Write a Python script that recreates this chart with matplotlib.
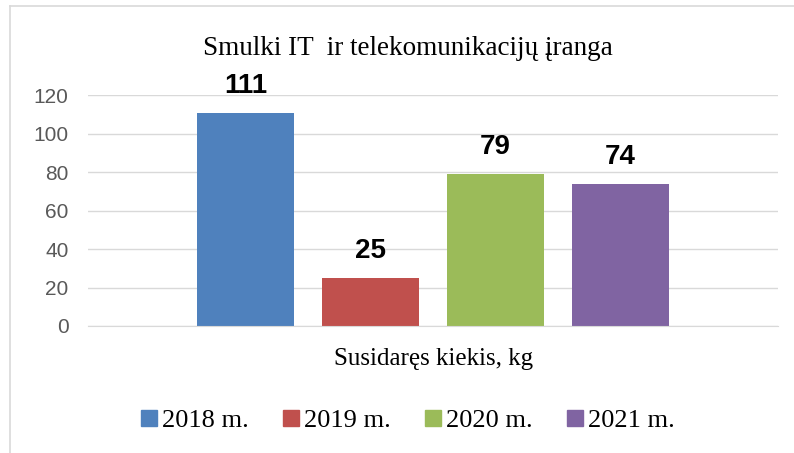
import matplotlib.pyplot as plt
from matplotlib.lines import Line2D
from matplotlib.patches import Patch

# data
years = ['2018 m.', '2019 m.', '2020 m.', '2021 m.']
values = [111, 25, 79, 74]
colors = ['#4F81BD', '#C0504D', '#9BBB59', '#8064A2']
category = 'Susidaręs kiekis, kg'
title = 'Smulki IT  ir telekomunikacijų įranga'
yticks = [0, 20, 40, 60, 80, 100, 120]

fig = plt.figure(figsize=(7.94, 4.53), dpi=100)
ax = fig.add_axes([0.111, 0.2804, 0.869, 0.5092])

width = 0.14
step = 0.181
for i, (yr, v, c) in enumerate(zip(years, values, colors)):
    bars = ax.bar((i - 1.5) * step, v, width, color=c, label=yr, zorder=2)
    ax.bar_label(bars, padding=10, fontsize=20, fontweight='bold',
                 family='Liberation Sans', color='black')

ax.set_xlim(-0.5, 0.5)
ax.set_ylim(0, 120)
ax.set_yticks(yticks)
ax.set_xticks([0])
ax.set_xticklabels([category], family='Liberation Serif', fontsize=18)
ax.tick_params(axis='x', length=0, pad=16)
ax.tick_params(axis='y', length=0, pad=14, labelsize=15, labelcolor='#595959')
for lab in ax.get_yticklabels():
    lab.set_family('Liberation Sans')
ax.grid(axis='y', color='#D9D9D9', lw=1, zorder=0)
for s in ['left', 'right', 'top']:
    ax.spines[s].set_visible(False)
ax.spines['bottom'].set_color('#D9D9D9')

fig.text(0.514, 1 - 55 / 453, title, ha='center', va='baseline',
         family='Liberation Serif', fontsize=19.5)

handles = [Patch(color=c) for c in colors]
fig.legend(handles, years, loc='center', bbox_to_anchor=(0.514, 1 - 421 / 453),
           ncol=4, frameon=False, prop={'family': 'Liberation Serif', 'size': 19},
           handlelength=0.6, handleheight=0.6, handletextpad=0.2, columnspacing=1.3)

# chart border (only top and left visible)
fig.add_artist(Line2D([10 / 794, 10 / 794], [0, 1 - 6 / 453], color='#D9D9D9', lw=1.2))
fig.add_artist(Line2D([10 / 794, 1], [1 - 6 / 453, 1 - 6 / 453], color='#D9D9D9', lw=1.2))

fig.savefig('out.png', dpi=100)
